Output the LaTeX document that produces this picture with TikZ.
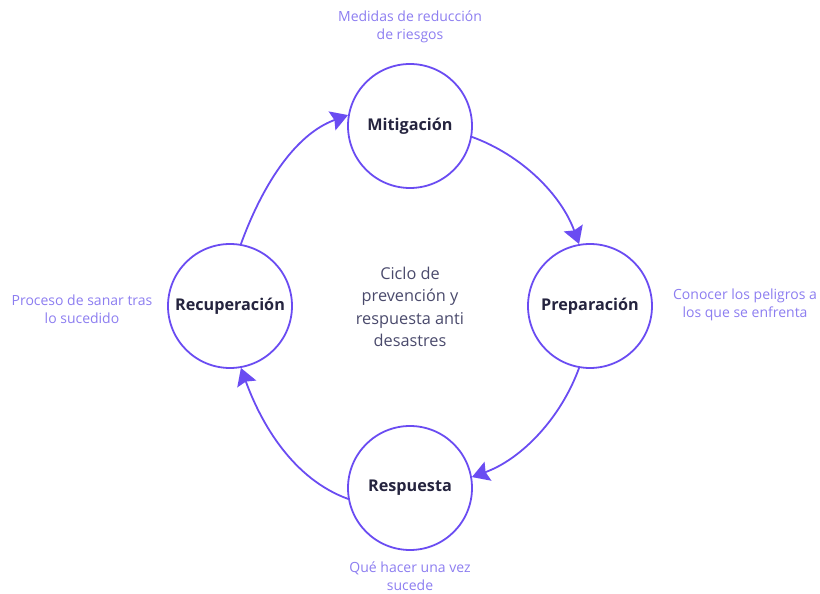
\documentclass[tikz,border=0pt]{standalone}
\usepackage{fontspec}
\setmainfont{Open Sans}
\usetikzlibrary{arrows.meta}
\definecolor{cyc}{HTML}{6A4CF2}
\definecolor{lbl}{HTML}{25243F}
\definecolor{side}{HTML}{8C7DF0}
\definecolor{ctr}{HTML}{4A4A6C}
\tikzset{
  phase/.style={circle, draw=cyc, line width=1.8pt, fill=white, minimum size=124pt, inner sep=0pt,
    font=\fontsize{16.2}{19}\selectfont\bfseries, text=lbl},
  note/.style={align=center, text=side, font=\fontsize{14}{18}\selectfont},
  flow/.style={draw=cyc, line width=1.8pt, -{Stealth[length=17pt,width=20pt,inset=2.5pt]}, looseness=0.89}
}
\begin{document}
\begin{tikzpicture}[x=1pt,y=1pt]
\useasboundingbox (0,0) rectangle (820,594);
\node[phase] (mit) at (410,468) {Mitigación};
\node[phase] (prep) at (590,288) {Preparación};
\node[phase] (resp) at (410,106) {Respuesta};
\node[phase] (rec) at (230,288) {Recuperación};
\node[align=center, text=ctr, font=\fontsize{16.3}{22.5}\selectfont] (ctrtxt) at (410,287)
  {Ciclo de\\prevención y\\respuesta anti\\desastres};
\node[note] (nmit) at (410,567) {Medidas de reducción\\de riesgos};
\node[note] (nprep) at (745,289) {Conocer los peligros a\\los que se enfrenta};
\node[note] (nresp) at (410,18) {Qué hacer una vez\\sucede};
\node[note] (nrec) at (82,285) {Proceso de sanar tras\\lo sucedido};
\draw[flow] (mit.-10) to[out=-20,in=110] (prep.100);
\draw[flow] (prep.-100) to[out=-110,in=20] (resp.10);
\draw[flow] (resp.190) to[out=160,in=-70] (rec.-80);
\draw[flow] (rec.80) to[out=70,in=-160] (mit.170);
\end{tikzpicture}
\end{document}
